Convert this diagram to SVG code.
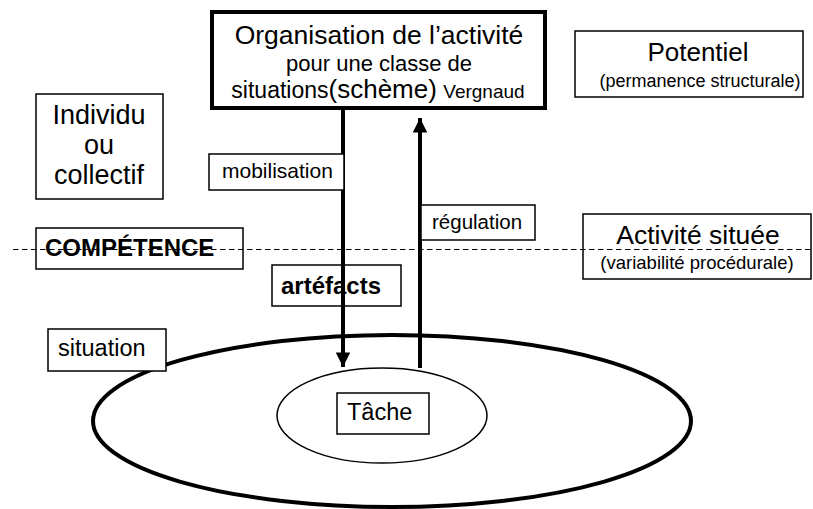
<svg xmlns="http://www.w3.org/2000/svg" width="813" height="509" viewBox="0 0 813 509">
<style>
text{font-family:"Liberation Sans",Arial,sans-serif;fill:#000}
.box{fill:#fff;stroke:#000;stroke-width:1.5}
.c{text-anchor:middle}
.conn{stroke:#000;stroke-width:4;fill:none}
</style>
<defs>
<marker id="ah" viewBox="0 0 10 10" refX="10" refY="5" markerWidth="4" markerHeight="3.6" markerUnits="strokeWidth" orient="auto">
<path d="M0,0 L10,5 L0,10 z" fill="#000"/>
</marker>
</defs>
<g id="situation-ellipse"><ellipse cx="392" cy="421" rx="299" ry="86" fill="#fff" stroke="#000" stroke-width="4"/></g>
<g id="tache-ellipse"><ellipse cx="382" cy="415.5" rx="105" ry="47.5" fill="#fff" stroke="#000" stroke-width="1.5"/></g>
<g id="tache"><rect class="box" x="337" y="393" width="92" height="41"/><text x="347" y="420" font-size="23.5">Tâche</text></g>
<g id="connectors">
<line class="conn" x1="343" y1="108" x2="343" y2="367" marker-end="url(#ah)"/>
<line class="conn" x1="420" y1="368" x2="420" y2="118" marker-end="url(#ah)"/>
</g>
<g id="organisation"><rect x="212" y="12" width="333" height="96" fill="#fff" stroke="#000" stroke-width="4"/>
<text class="c" x="379" y="44" font-size="26.5">Organisation de l’activité</text>
<text class="c" x="379" y="71" font-size="22">pour une classe de</text>
<text class="c" x="378" y="98" font-size="23">situations<tspan font-size="26">(schème)</tspan> <tspan font-size="19">Vergnaud</tspan></text></g>
<g id="potentiel"><rect class="box" x="575" y="31" width="228" height="66"/>
<text class="c" x="698" y="61" font-size="26">Potentiel</text>
<text class="c" x="700" y="87" font-size="18">(permanence structurale)</text></g>
<g id="individu"><rect class="box" x="36" y="94" width="127" height="105"/>
<text class="c" x="99" y="124" font-size="27">Individu</text>
<text class="c" x="99" y="154" font-size="27">ou</text>
<text class="c" x="99" y="184" font-size="27">collectif</text></g>
<g id="mobilisation"><rect class="box" x="209" y="154" width="135" height="36"/><text x="222" y="178" font-size="21">mobilisation</text></g>
<g id="regulation"><rect class="box" x="421" y="205" width="114" height="35"/><text x="432" y="229" font-size="20.5">régulation</text></g>
<g id="competence"><rect class="box" x="36" y="228" width="207" height="41"/><text x="45" y="256" font-size="24" font-weight="bold">COMPÉTENCE</text></g>
<g id="activite"><rect class="box" x="583" y="214" width="228" height="65"/>
<text class="c" x="698" y="244" font-size="26.5">Activité située</text>
<text class="c" x="697" y="269" font-size="18.5">(variabilité procédurale)</text></g>
<g id="artefacts"><rect class="box" x="272" y="265" width="129" height="41"/><text x="281" y="294" font-size="24" font-weight="bold">artéfacts</text></g>
<g id="situation"><rect class="box" x="48" y="329" width="118" height="42"/><text x="58" y="356" font-size="23.5">situation</text></g>
<g id="threshold"><line x1="13" y1="249.5" x2="813" y2="249.5" stroke="#000" stroke-width="1" stroke-dasharray="5.5,3.5"/></g>
<line x1="343" y1="265" x2="343" y2="306" class="conn"/>
</svg>
